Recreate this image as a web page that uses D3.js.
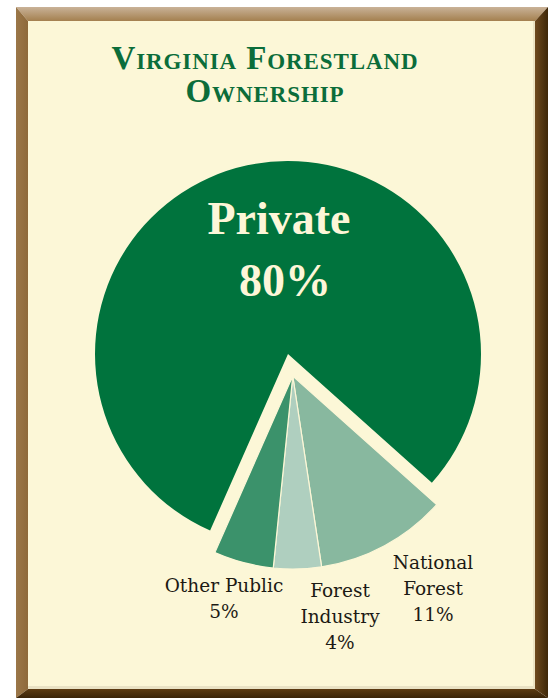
<!DOCTYPE html>
<html>
<head>
<meta charset="utf-8">
<script src="https://cdn.jsdelivr.net/npm/d3@7"></script>
<style>
  html, body { margin: 0; padding: 0; background: #fff; }
  svg { display: block; }
  .serif { font-family: "Liberation Serif", "Times New Roman", "DejaVu Serif", serif; }
  .label { font-family: "DejaVu Serif", serif; }
</style>
</head>
<body>
<div id="chart"></div>
<script>
// Chart data
const categories = ["Private", "National Forest", "Forest Industry", "Other Public"];
const shares = [80, 11, 4, 5];
const labelLines = [["Private"], ["National", "Forest"], ["Forest", "Industry"], ["Other Public"]];
const sliceColors = ["#00733d", "#88b89f", "#afcfbf", "#3b926b"];

const W = 551, H = 698;
const svg = d3.select("#chart").append("svg")
  .attr("width", W).attr("height", H);

const defs = svg.append("defs");
function grad(id, x2, y2, stops) {
  const g = defs.append("linearGradient").attr("id", id)
    .attr("x1", "0%").attr("y1", "0%").attr("x2", x2).attr("y2", y2);
  stops.forEach(([o, c]) => g.append("stop").attr("offset", o).attr("stop-color", c));
}
grad("gTop", "0%", "100%", [["0%", "#c9b298"], ["100%", "#a4804f"]]);
grad("gLeft", "100%", "0%", [["0%", "#9b7749"], ["100%", "#8e6a3b"]]);
grad("gRight", "100%", "0%", [["0%", "#6e4a1e"], ["100%", "#3e2709"]]);
grad("gBot", "0%", "100%", [["0%", "#5c3b12"], ["100%", "#3a2408"]]);

// Bevelled frame
const fo = { x0: 16, y0: 7, x1: 548, y1: 698 };
const fi = { x0: 28, y0: 21, x1: 535, y1: 689 };
const poly = pts => pts.map(p => p.join(",")).join(" ");
svg.append("polygon").attr("fill", "url(#gTop)")
  .attr("points", poly([[fo.x0, fo.y0], [fo.x1, fo.y0], [fi.x1, fi.y0], [fi.x0, fi.y0]]));
svg.append("polygon").attr("fill", "url(#gLeft)")
  .attr("points", poly([[fo.x0, fo.y0], [fi.x0, fi.y0], [fi.x0, fi.y1], [fo.x0, fo.y1]]));
svg.append("polygon").attr("fill", "url(#gRight)")
  .attr("points", poly([[fo.x1, fo.y0], [fo.x1, fo.y1], [fi.x1, fi.y1], [fi.x1, fi.y0]]));
svg.append("polygon").attr("fill", "url(#gBot)")
  .attr("points", poly([[fo.x0, fo.y1], [fi.x0, fi.y1], [fi.x1, fi.y1], [fo.x1, fo.y1]]));

// Cream panel
svg.append("rect")
  .attr("x", fi.x0).attr("y", fi.y0)
  .attr("width", fi.x1 - fi.x0).attr("height", fi.y1 - fi.y0)
  .attr("fill", "#fcf7d7");
svg.append("rect")
  .attr("x", fi.x0).attr("y", fi.y1 - 3)
  .attr("width", fi.x1 - fi.x0).attr("height", 3)
  .attr("fill", "#e9e2c4");
svg.append("rect")
  .attr("x", fi.x1 - 2).attr("y", fi.y0)
  .attr("width", 2).attr("height", fi.y1 - fi.y0)
  .attr("fill", "#ece4c4");

// Title
const titleLines = ["Virginia Forestland", "Ownership"];
titleLines.forEach((s, k) => {
  svg.append("text")
    .attr("class", "serif")
    .attr("x", 265).attr("y", 69 + k * 33)
    .attr("text-anchor", "middle")
    .attr("fill", "#0b6d3a")
    .style("font-weight", "bold")
    .style("font-variant", "small-caps")
    .style("letter-spacing", "0.9px")
    .style("font-size", "33px")
    .text(s);
});

// Pie
const cx = 288, cy = 354, r = 193;
const pie = d3.pie().sort(null)
  .startAngle(-156.2 * Math.PI / 180)
  .endAngle(203.8 * Math.PI / 180);
const arcs = pie(shares);
const arc = d3.arc().innerRadius(0).outerRadius(r);

// the small slices are pulled out together
const groupStart = arcs[1].startAngle, groupEnd = arcs[3].endAngle;
const mid = (groupStart + groupEnd) / 2;
const pull = 22.5;
const ox = Math.sin(mid) * pull, oy = -Math.cos(mid) * pull;

const pieG = svg.append("g").attr("transform", `translate(${cx},${cy})`);
pieG.selectAll("path")
  .data(arcs)
  .enter()
  .append("path")
  .attr("d", arc)
  .attr("fill", (d, i) => sliceColors[i])
  .attr("stroke", (d, i) => i === 0 ? "none" : "#fcf7d7")
  .attr("stroke-width", 1.2)
  .attr("transform", (d, i) => i === 0 ? null : `translate(${ox},${oy})`);

// Private label inside
const big = svg.append("text")
  .attr("class", "serif")
  .attr("text-anchor", "middle")
  .attr("fill", "#fdf6d8")
  .style("font-weight", "bold")
  .style("font-size", "46px");
big.append("tspan").attr("x", 279).attr("y", 234).text(categories[0]);
big.append("tspan").attr("x", 285).attr("y", 296).text(shares[0] + "%");

// Outside labels
const labelPos = [null, [433, 569], [340, 597], [224, 592]];
for (let i = 1; i < arcs.length; i++) {
  const [lx, ly] = labelPos[i];
  const t = svg.append("text")
    .attr("class", "label")
    .attr("text-anchor", "middle")
    .attr("fill", "#1c1a14")
    .style("font-size", "18.5px");
  const lines = labelLines[i].concat([shares[i] + "%"]);
  lines.forEach((s, k) => {
    t.append("tspan").attr("x", lx).attr("y", ly + k * 26).text(s);
  });
}
</script>
</body>
</html>
